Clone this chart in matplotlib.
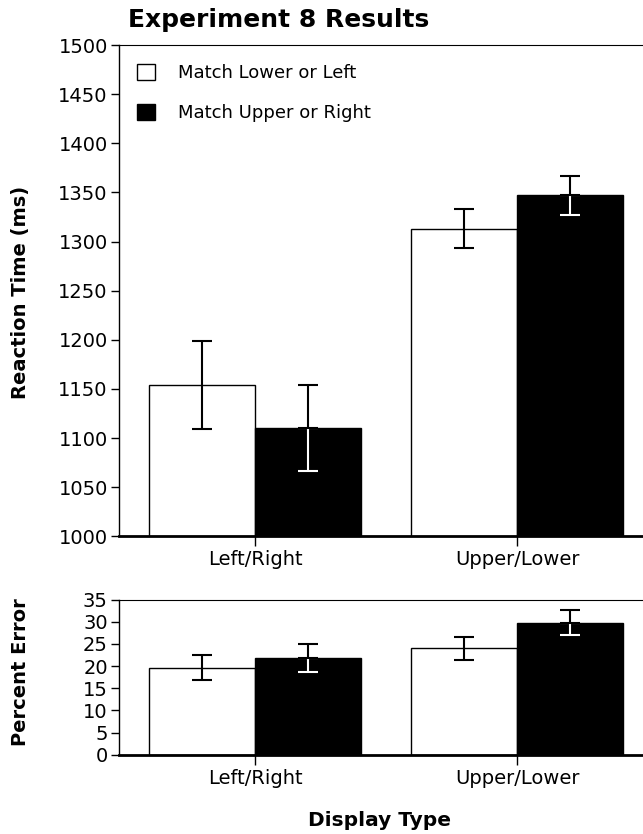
import numpy as np
import matplotlib
matplotlib.use("Agg")
from matplotlib import pyplot as plt
from matplotlib.patches import Patch

plt.rcParams['font.family'] = ['DejaVu Sans']

displays = ["Left/Right", "Upper/Lower"]
conditions = ["Match Lower or Left", "Match Upper or Right"]

# reaction time (ms)
rt_lower_left = [1154, 1313]
rt_upper_right = [1110, 1347]
rt_err_lower_left = [45, 20]
rt_err_upper_right = [44, 20]

# percent error
pe_lower_left = [19.6, 24.0]
pe_upper_right = [21.8, 29.8]
pe_err_lower_left = [2.8, 2.6]
pe_err_upper_right = [3.1, 2.8]

fig = plt.figure(figsize=(6.43, 8.34), dpi=100)
ax = fig.add_axes([0.185, 0.357, 0.815, 0.589])
ax1 = fig.add_axes([0.185, 0.095, 0.815, 0.186])

x = np.arange(len(displays))
w = 0.405


def draw(a, lo, hi, elo, ehi):
    a.bar(x - w / 2, lo, w, color="white", edgecolor="black", linewidth=1.0)
    a.bar(x + w / 2, hi, w, color="black", edgecolor="black", linewidth=1.0)
    kw = dict(fmt="none", capsize=7, elinewidth=1.5, capthick=1.5)
    a.errorbar(x - w / 2, lo, yerr=elo, ecolor="black", **kw)
    # part of the bar inside the black bar is white
    a.errorbar(x + w / 2, hi, yerr=[ehi, np.zeros(len(ehi))], ecolor="white", **kw)
    a.errorbar(x + w / 2, hi, yerr=[np.zeros(len(ehi)), ehi], ecolor="black", **kw)
    a.set_xlim(-0.52, 1.48)
    a.set_xticks(x)
    a.set_xticklabels(displays, fontsize=14)
    a.spines["right"].set_visible(False)
    a.spines["top"].set_linewidth(0.8)
    a.spines["left"].set_linewidth(1.0)
    a.spines["bottom"].set_linewidth(2.0)
    a.tick_params(axis="y", direction="out", length=6, width=1, labelsize=14, pad=2)
    a.tick_params(axis="x", direction="out", length=7, width=1, labelsize=14, pad=3)


draw(ax, rt_lower_left, rt_upper_right, rt_err_lower_left, rt_err_upper_right)
ax.set_ylim(1000, 1500)
ax.set_yticks(np.arange(1000, 1501, 50))

draw(ax1, pe_lower_left, pe_upper_right, pe_err_lower_left, pe_err_upper_right)
ax1.set_ylim(0, 35)
ax1.set_yticks(np.arange(0, 36, 5))

handles = [Patch(facecolor="white", edgecolor="black"),
           Patch(facecolor="black", edgecolor="black")]
ax.legend(handles, conditions, loc="upper left", frameon=False, fontsize=13,
          handlelength=1.0, handleheight=1.0, handletextpad=1.3,
          labelspacing=1.2, borderpad=0, borderaxespad=0,
          bbox_to_anchor=(0.034, 0.962))

fig.text(128 / 643, 1 - 20 / 834, "Experiment 8 Results", fontsize=18,
         fontweight="bold", ha="left", va="center")
fig.text(21 / 643, 1 - 292 / 834, "Reaction Time (ms)", fontsize=14,
         fontweight="bold", rotation=90, ha="center", va="center")
fig.text(21 / 643, 1 - 672 / 834, "Percent Error", fontsize=14,
         fontweight="bold", rotation=90, ha="center", va="center")
fig.text(380 / 643, 1 - 820 / 834, "Display Type", fontsize=14.5,
         fontweight="bold", ha="center", va="center")

fig.savefig("out.png", dpi=100)
